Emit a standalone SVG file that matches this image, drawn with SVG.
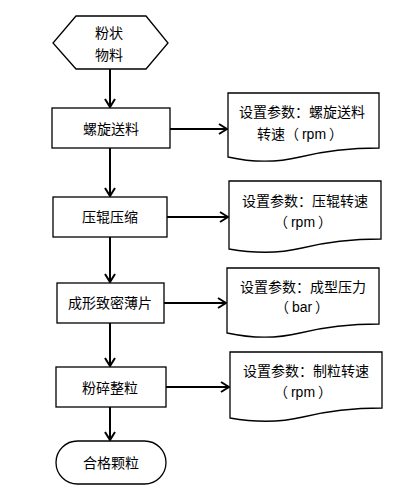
<svg xmlns="http://www.w3.org/2000/svg" width="418" height="491" viewBox="0 0 418 491">
<style>
.s{fill:#fff;stroke:#000;stroke-width:1.3}
.t{font-family:"Liberation Sans","Noto Sans CJK SC",sans-serif;font-size:14px;fill:#000;text-anchor:middle}
.c{fill:none;stroke:#000;stroke-width:2}
</style>
<defs>
<marker id="a" markerWidth="10" markerHeight="12" refX="9" refY="6" orient="auto" markerUnits="userSpaceOnUse">
<path d="M1,1 L9,6 L1,11" fill="none" stroke="#000" stroke-width="2"/>
</marker>
</defs>
<rect width="418" height="491" fill="#fff"/>
<g id="connectors">
<line class="c" x1="110" y1="69" x2="110" y2="107" marker-end="url(#a)"/>
<line class="c" x1="110" y1="148" x2="110" y2="196" marker-end="url(#a)"/>
<line class="c" x1="110" y1="237" x2="110" y2="282" marker-end="url(#a)"/>
<line class="c" x1="110" y1="323" x2="110" y2="366" marker-end="url(#a)"/>
<line class="c" x1="110" y1="407" x2="110" y2="440" marker-end="url(#a)"/>
<line class="c" x1="170" y1="129" x2="227" y2="129" marker-end="url(#a)"/>
<line class="c" x1="167" y1="217" x2="228" y2="217" marker-end="url(#a)"/>
<line class="c" x1="164" y1="303" x2="226" y2="303" marker-end="url(#a)"/>
<line class="c" x1="166" y1="387" x2="229" y2="387" marker-end="url(#a)"/>
</g>
<g id="start">
<polygon class="s" points="76,16 146,16 168,43 146,69 76,69 53,43"/>
<text class="t" x="109" y="38">粉状</text>
<text class="t" x="109" y="60">物料</text>
</g>
<g id="step1">
<rect class="s" x="52" y="108" width="118" height="40"/>
<text class="t" x="111" y="134">螺旋送料</text>
</g>
<g id="step2">
<rect class="s" x="53" y="197" width="114" height="40"/>
<text class="t" x="110" y="222">压辊压缩</text>
</g>
<g id="step3">
<rect class="s" x="57" y="283" width="107" height="40"/>
<text class="t" x="110" y="308">成形致密薄片</text>
</g>
<g id="step4">
<rect class="s" x="56" y="367" width="110" height="40"/>
<text class="t" x="110" y="393">粉碎整粒</text>
</g>
<g id="end">
<rect class="s" x="56" y="441" width="110" height="43" rx="21.5" ry="21.5"/>
<text class="t" x="111" y="468">合格颗粒</text>
</g>
<g id="doc1">
<path class="s" d="M228,93 H379 V148 C345,148 320,152 300,157 C275,163 250,162 228,157 Z"/>
<text class="t" x="302" y="117">设置参数：螺旋送料</text>
<text class="t" x="300" y="139">转速（<tspan dx="3">rpm</tspan><tspan dx="3">）</tspan></text>
</g>
<g id="doc2">
<path class="s" d="M229,181 H381 V239 C347,239 322,243 302,248 C277,254 252,253 229,249 Z"/>
<text class="t" x="305" y="206">设置参数：压辊转速</text>
<text class="t" x="303" y="227">（<tspan dx="3">rpm</tspan><tspan dx="3">）</tspan></text>
</g>
<g id="doc3">
<path class="s" d="M227,268 H379 V324 C345,324 320,328 300,333 C275,339 250,338 227,333 Z"/>
<text class="t" x="303" y="292">设置参数：成型压力</text>
<text class="t" x="302" y="312">（<tspan dx="3">bar</tspan><tspan dx="3">）</tspan></text>
</g>
<g id="doc4">
<path class="s" d="M230,352 H382 V408 C348,408 323,412 303,417 C278,423 253,422 230,418 Z"/>
<text class="t" x="306" y="376">设置参数：制粒转速</text>
<text class="t" x="303" y="397">（<tspan dx="3">rpm</tspan><tspan dx="3">）</tspan></text>
</g>
</svg>
